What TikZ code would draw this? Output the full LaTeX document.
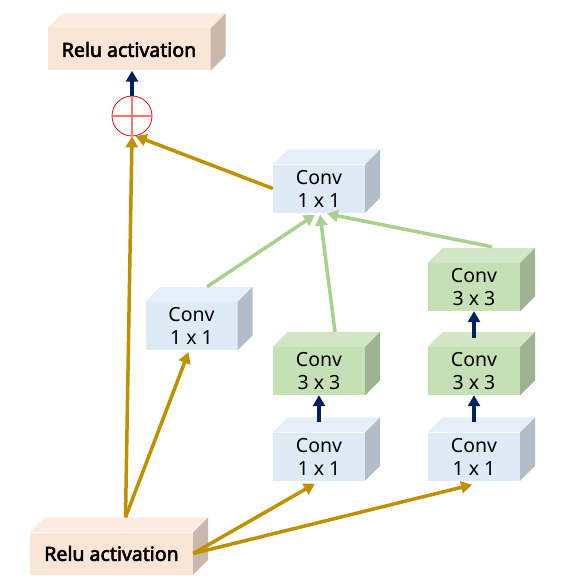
\documentclass[tikz,border=0pt]{standalone}
\usepackage{fontspec}
\setmainfont{Noto Sans}[AutoFakeBold=3]
\usetikzlibrary{arrows.meta,calc}

\definecolor{relufront}{HTML}{FBE5D6}
\definecolor{relutop}{HTML}{FCEBE0}
\definecolor{reluside}{HTML}{CAB8AC}
\definecolor{bluefront}{HTML}{DEEBF7}
\definecolor{bluetop}{HTML}{E6EFF9}
\definecolor{blueside}{HTML}{B3BDC7}
\definecolor{greenfront}{HTML}{C5E0B4}
\definecolor{greentop}{HTML}{D1E6C4}
\definecolor{greenside}{HTML}{9EB391}
\definecolor{goldline}{HTML}{BF9000}
\definecolor{greenline}{HTML}{A9D18E}
\definecolor{navyline}{HTML}{002060}

\tikzset{
  relubox/.style={fill=relufront, minimum width=163pt, minimum height=42pt,
    inner sep=0pt, font=\fontsize{19.5}{22}\selectfont\bfseries},
  convbox/.style={minimum width=92pt, minimum height=48pt, inner sep=0pt,
    align=center, font=\fontsize{19.5}{23}\selectfont},
  blue/.style={convbox, fill=bluefront},
  green/.style={convbox, fill=greenfront},
  goldarrow/.style={goldline, line width=3.5pt, -{Triangle[length=11pt,width=12pt]}},
  greenarrow/.style={greenline, line width=3.5pt, -{Triangle[length=11pt,width=12pt]}},
  navyarrow/.style={navyline, line width=4.3pt, -{Triangle[length=11pt,width=12pt]}}
}

\begin{document}
\begin{tikzpicture}[x=1pt, y=-1pt]
  \useasboundingbox (0,0) rectangle (562,583);
  %front faces of the blocks, one node each
  \node[relubox] (reluout) at (129,49.5) {Relu activation};
  \node[relubox] (reluin) at (111.5,553.5) {Relu activation};
  \node[blue] (concat) at (319,188.5) {Conv\\1 x 1};
  \node[blue] (branchA) at (191.5,326) {Conv\\1 x 1};
  \node[blue] (branchB1) at (319,456.5) {Conv\\1 x 1};
  \node[green] (branchB2) at (319,371) {Conv\\3 x 3};
  \node[blue] (branchC1) at (474,456.5) {Conv\\1 x 1};
  \node[green] (branchC2) at (474,371) {Conv\\3 x 3};
  \node[green] (branchC3) at (474,287) {Conv\\3 x 3};
  %top and side faces give the 3d look
  \foreach \n/\tc/\sc in {reluout/relutop/reluside, reluin/relutop/reluside,
      concat/bluetop/blueside, branchA/bluetop/blueside,
      branchB1/bluetop/blueside, branchB2/greentop/greenside,
      branchC1/bluetop/blueside, branchC2/greentop/greenside,
      branchC3/greentop/greenside} {
    \fill[\tc] (\n.north west) -- ++(15,-15) -- ($(\n.north east)+(15,-15)$)
      -- (\n.north east) -- cycle;
    \fill[\sc] (\n.north east) -- ++(15,-15) -- ($(\n.south east)+(15,-15)$)
      -- (\n.south east) -- cycle;
  }
  %the sum
  \node[circle, draw=red, line width=0.8pt, fill=white, minimum size=40pt,
    inner sep=0pt] (add) at (132,116) {};
  \draw[red!55, line width=1.3pt] (add.north) -- (add.south) (add.west) -- (add.east);
  %shortcut and branch inputs
  \coordinate (inTop) at ($(reluin.north)+(14,-15)$);
  \draw[goldarrow] (inTop) -- (add.south);
  \draw[goldarrow] (inTop) -- ($(branchA.south)+(-3,2)$);
  \draw[goldarrow] (reluin.east) -- ($(branchB1.south)+(-4,3)$);
  \draw[goldarrow] (reluin.east) -- ($(branchC1.south)+(-2,4)$);
  \draw[goldarrow] (concat.west) -- (add.280);
  %branch outputs into the 1x1 conv
  \draw[greenarrow] ($(branchA.north)+(15.5,-15)$) -- ($(concat.south)+(-4,2)$);
  \draw[greenarrow] ($(branchB2.north)+(16,-15)$) -- ($(concat.south)+(1,2)$);
  \draw[greenarrow] ($(branchC3.north)+(18,-16)$) -- ($(concat.south)+(8,1)$);
  %inside the branches
  \draw[navyarrow] ($(branchB1.north)+(0,-10)$) -- (branchB2.south);
  \draw[navyarrow] ($(branchC1.north)+(0,-10)$) -- (branchC2.south);
  \draw[navyarrow] ($(branchC2.north)+(0,-9)$) -- (branchC3.south);
  \draw[navyarrow] (add.north) -- (add.north |- reluout.south);
\end{tikzpicture}
\end{document}
